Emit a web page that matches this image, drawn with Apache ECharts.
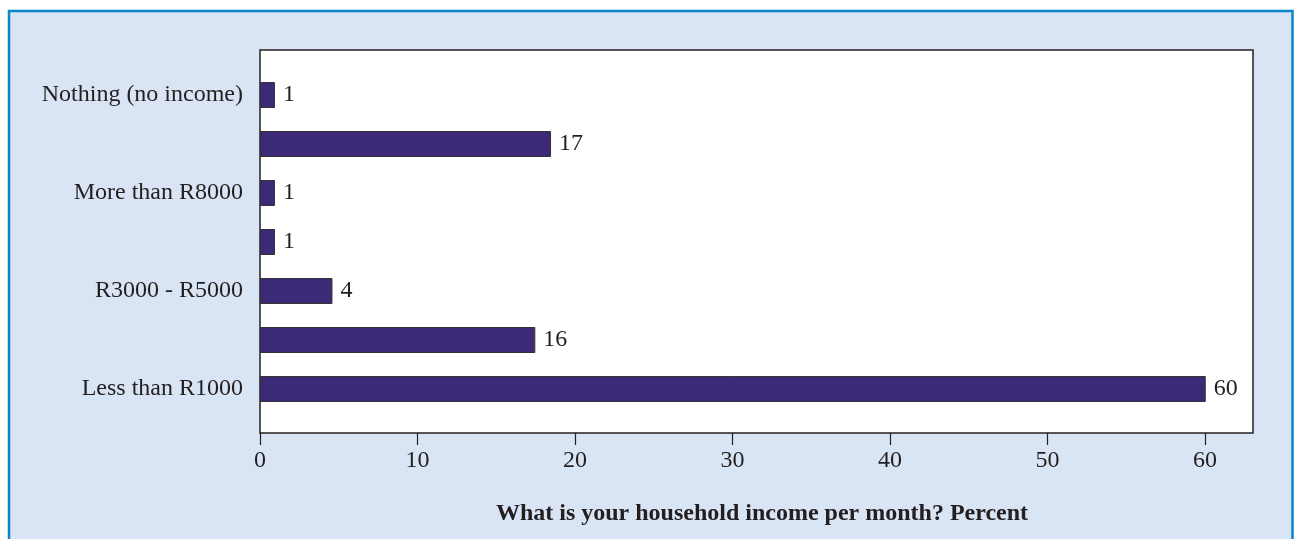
<!DOCTYPE html>
<html>
<head>
<meta charset="utf-8">
<script src="https://cdn.jsdelivr.net/npm/echarts@6/dist/echarts.min.js"></script>
<style>
html,body{margin:0;padding:0;background:#ffffff;}
#chart{width:1295px;height:539px;}
</style>
</head>
<body>
<div id="chart"></div>
<script>
// Categories from bottom to top
const categories = ["Less than R1000", "R1000 - R3000", "R3000 - R5000", "R5000 - R8000", "More than R8000", "Don't know", "Nothing (no income)"];
// Bar lengths
const values = [60.05, 17.48, 4.6, 0.95, 0.95, 18.48, 0.95];
// Printed value labels
const valueLabels = ["60", "16", "4", "1", "1", "17", "1"];
const xTicks = [0, 10, 20, 30, 40, 50, 60];
const axisTitle = "What is your household income per month? Percent";

const FONT = "'Liberation Serif', 'DejaVu Serif', serif";
const TXT = '#231f20';
const XMIN = 0, XMAX = 63.05;

const chart = echarts.init(document.getElementById('chart'), null, {renderer: 'canvas'});
chart.setOption({
  backgroundColor: '#ffffff',
  animation: false,
  graphic: [{
    type: 'rect',
    z: -10,
    shape: {x: 9, y: 11, width: 1283.5, height: 540},
    style: {fill: '#d9e5f4', stroke: '#0a86c9', lineWidth: 2.5}
  }],
  title: {
    text: axisTitle,
    left: 757, top: 497, textAlign: 'center',
    textStyle: {fontFamily: FONT, fontSize: 24, fontWeight: 'bold', color: TXT}
  },
  grid: [
    {left: 260, right: 1295 - 1253, top: 50, bottom: 539 - 433, show: true,
     backgroundColor: '#ffffff', borderColor: TXT, borderWidth: 1.5, containLabel: false},
    {left: 260, right: 1295 - 1253, top: 70.5, bottom: 539 - 413.5, show: false, containLabel: false}
  ],
  xAxis: [
    {gridIndex: 0, type: 'value', min: XMIN, max: XMAX, interval: 10,
     axisLine: {show: false}, splitLine: {show: false},
     axisTick: {show: true, length: 12, lineStyle: {color: TXT, width: 1.2}},
     axisLabel: {show: true, margin: 16, fontFamily: FONT, fontSize: 24, color: TXT, showMaxLabel: false,
       formatter: function(v){ return xTicks.indexOf(v) >= 0 ? String(v) : ''; }}},
    {gridIndex: 1, type: 'value', min: XMIN, max: XMAX, show: false}
  ],
  yAxis: [
    {gridIndex: 0, type: 'value', show: false, min: 0, max: 1},
    {gridIndex: 1, type: 'category', data: categories, boundaryGap: true,
     axisLine: {show: false}, axisTick: {show: false}, splitLine: {show: false},
     axisLabel: {show: true, interval: 1, margin: 17, fontFamily: FONT, fontSize: 24, color: TXT}}
  ],
  series: [{
    type: 'bar',
    xAxisIndex: 1, yAxisIndex: 1,
    data: values,
    barWidth: 26,
    itemStyle: {color: '#3c2a77', borderColor: '#333333', borderWidth: 1},
    label: {show: true, position: 'right', distance: 8, fontFamily: FONT, fontSize: 24, color: TXT,
      formatter: function(p){ return valueLabels[p.dataIndex]; }}
  }]
});
</script>
</body>
</html>
